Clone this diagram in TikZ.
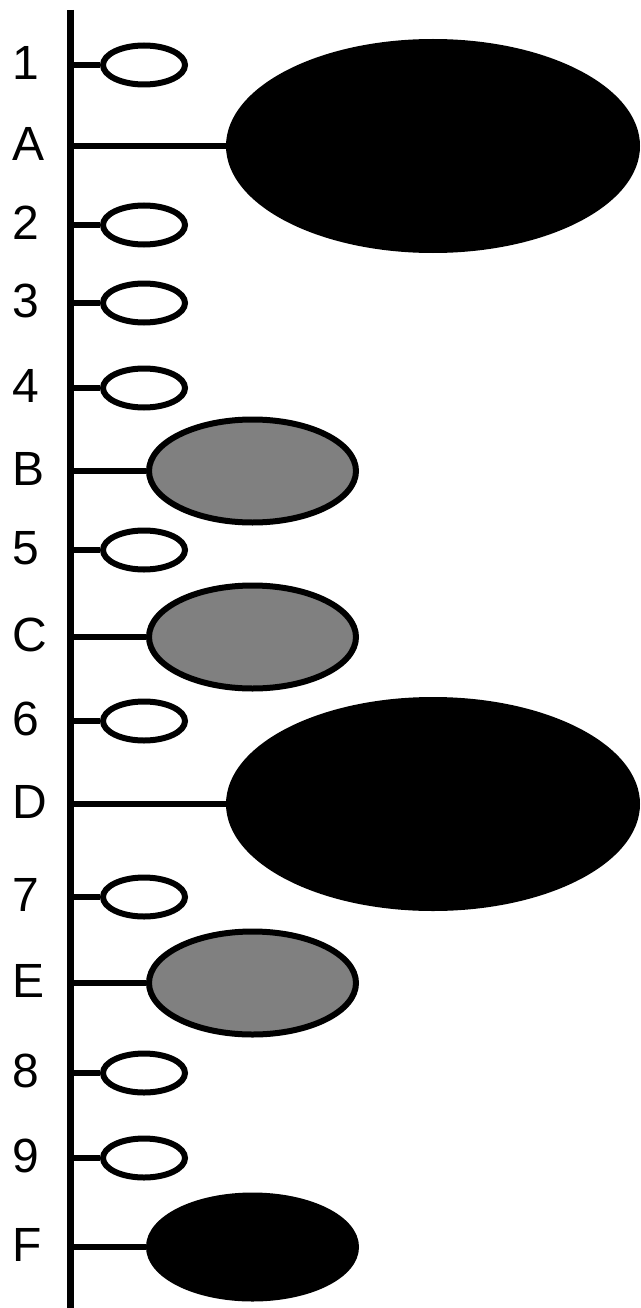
\documentclass[tikz,border=0pt]{standalone}
\usepackage{fontspec}
\setmainfont{Liberation Sans}
\usetikzlibrary{shapes.geometric}
\definecolor{midgrey}{RGB}{128,128,128}
\tikzset{
  lbl/.style={anchor=base west, inner sep=0pt, font=\fontsize{48}{52}\selectfont},
  small/.style={ellipse, draw=black, line width=6pt, fill=white, inner sep=0pt, minimum width=82pt, minimum height=39pt},
  mid/.style={ellipse, draw=black, line width=6pt, inner sep=0pt, minimum width=207pt, minimum height=103pt},
  midgray/.style={mid, fill=midgrey},
  midblack/.style={mid, fill=black},
  big/.style={ellipse, fill=black, draw=none, inner sep=0pt, minimum width=414pt, minimum height=214pt},
  conn/.style={line width=5.5pt},
  axis/.style={line width=7.5pt}
}
\begin{document}
\begin{tikzpicture}[x=1pt,y=-1pt]
\useasboundingbox (0,0) rectangle (640,1308);
\coordinate (top) at (70.5,10);
\coordinate (bot) at (70.5,1308);
\foreach \n/\t/\y in {r1/1/65, rA/A/146, r2/2/225, r3/3/303, r4/4/388, rB/B/471, r5/5/550, rC/C/637, r6/6/721, rD/D/804, r7/7/897, rE/E/983, r8/8/1073, r9/9/1158, rF/F/1247}{
  \node[lbl] (l\n) at (12,\y+14.5) {\t};
  \coordinate (a\n) at (70.5,\y);
}
\foreach \n/\y in {r1/65, r2/225, r3/303, r4/388, r5/550, r6/721, r7/897, r8/1073, r9/1158}{
  \node[small] (e\n) at (144,\y) {};
}
\foreach \n/\y in {rB/471, rC/637, rE/983}{
  \node[midgray] (e\n) at (252.5,\y) {};
}
\node[midblack] (erF) at (252.5,1247) {};
\node[big] (erA) at (433,146) {};
\node[big] (erD) at (433,804) {};
\foreach \n in {r1,rA,r2,r3,r4,rB,r5,rC,r6,rD,r7,rE,r8,r9,rF}{
  \draw[conn] (a\n) -- (e\n.west);
}
\draw[axis] (top) -- (bot);
\end{tikzpicture}
\end{document}
